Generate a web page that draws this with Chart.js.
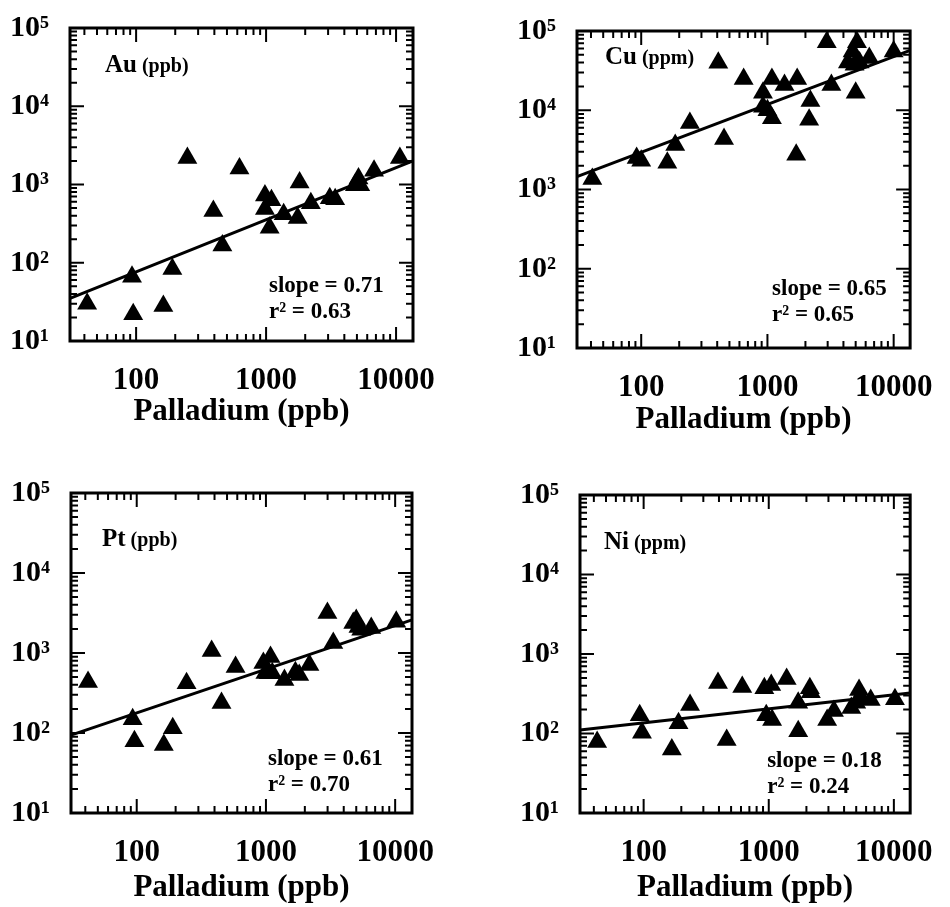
<!DOCTYPE html>
<html>
<head>
<meta charset="utf-8">
<script src="https://cdn.jsdelivr.net/npm/chart.js@4.4.1/dist/chart.umd.min.js"></script>
<style>
  html, body { margin: 0; padding: 0; background: #fff; }
  #page { position: relative; width: 950px; height: 907px; overflow: hidden; }
  .panel { position: absolute; }
  .panel canvas { display: block; }
</style>
</head>
<body>
<div id="page">
  <div class="panel" style="left:0;top:0"><canvas id="c-au" width="475" height="450"></canvas></div>
  <div class="panel" style="left:475px;top:0"><canvas id="c-cu" width="475" height="450"></canvas></div>
  <div class="panel" style="left:0;top:450px"><canvas id="c-pt" width="475" height="457"></canvas></div>
  <div class="panel" style="left:475px;top:450px"><canvas id="c-ni" width="475" height="457"></canvas></div>
</div>
<script>
// tick values
const pdTicks = [100, 1000, 10000];
const concTicks = [10, 100, 1000, 10000, 100000];
const minorSteps = [2, 3, 4, 5, 6, 7, 8, 9];
const pdRange = [31, 13500];
const concRange = [10, 100000];

// Au (ppb) vs Pd
const auPd = [42, 93, 95, 162, 190, 248, 393, 461, 624, 980, 980, 1100, 1065, 1365, 1750, 1810, 2210, 3090, 3400, 4820, 5140, 5300, 6770, 10700];
const auVal = [30, 66, 22, 28, 83, 2180, 457, 166, 1600, 725, 485, 630, 280, 417, 372, 1060, 575, 665, 650, 975, 1190, 975, 1500, 2180];
const auFit = [35, 2000];

// Cu (ppm) vs Pd
const cuPd = [41, 92, 100, 161, 186, 243, 408, 453, 648, 922, 922, 1000, 1085, 1085, 1365, 1720, 1690, 2190, 2140, 2950, 3210, 4340, 4730, 4900, 5120, 5000, 5370, 6410, 10000];
const cuVal = [1360, 2500, 2300, 2170, 3650, 6900, 39800, 4350, 24800, 16600, 11100, 10000, 24800, 7900, 20900, 24800, 2750, 13100, 7600, 72000, 20900, 40000, 55000, 37500, 72000, 16600, 40000, 45700, 55000];
const cuFit = [1450, 57000];

// Pt (ppb) vs Pd
const ptPd = [42, 93, 96, 162, 190, 243, 380, 453, 582, 955, 990, 1050, 1085, 1120, 1390, 1690, 1810, 2170, 2990, 3320, 4740, 5000, 5200, 5460, 6530, 10200];
const ptVal = [434, 149, 79, 71, 115, 420, 1060, 237, 668, 750, 562, 560, 890, 560, 460, 575, 530, 708, 3160, 1330, 2370, 2580, 2110, 1950, 2050, 2450];
const ptFit = [94, 2600];

// Ni (ppm) vs Pd
const niPd = [42.5, 93, 97, 168, 190, 235, 393, 461, 614, 922, 955, 1047, 1064, 1390, 1720, 1720, 2130, 2170, 2930, 3320, 4570, 5000, 5270, 5460, 6530, 10200];
const niVal = [78, 170, 102, 63, 135, 229, 431, 83, 385, 372, 170, 407, 148, 484, 243, 107, 370, 330, 148, 192, 210, 243, 353, 282, 263, 269];
const niFit = [111, 324];

const FONT = "'Liberation Serif', 'DejaVu Serif', serif";
const SUP = { 1: '\u00b9', 2: '\u00b2', 3: '\u00b3', 4: '\u2074', 5: '\u2075' };

const panels = [
    { id: 'c-au', name: 'Au', unit: '(ppb)', x: auPd, y: auVal, fit: auFit, slope: '0.71', r2: '0.63',
      yw: 70, top: 22, right: 62, xh: 109, titlePad: 19, nameAt: [35, 44], statsAt: [-144, -49] },
    { id: 'c-cu', name: 'Cu', unit: '(ppm)', x: cuPd, y: cuVal, fit: cuFit, slope: '0.65', r2: '0.65',
      yw: 102, top: 31, right: 32, xh: 102, titlePad: 11, nameAt: [28, 33], statsAt: [-138, -53] },
    { id: 'c-pt', name: 'Pt', unit: '(ppb)', x: ptPd, y: ptVal, fit: ptFit, slope: '0.61', r2: '0.70',
      yw: 71, top: 43, right: 63, xh: 94, titlePad: 0, nameAt: [31, 53], statsAt: [-144, -48] },
    { id: 'c-ni', name: 'Ni', unit: '(ppm)', x: niPd, y: niVal, fit: niFit, slope: '0.18', r2: '0.24',
      yw: 105, top: 45, right: 28, xh: 94, titlePad: 0, nameAt: [24, 54], statsAt: [-143, -46] },
];

function tickMarks(decades, range) {
    const out = [];
    decades.forEach((d) => {
        if (d >= range[0] && d <= range[1]) out.push({ v: d, major: true });
        minorSteps.forEach((m) => {
            const v = d * m;
            if (v >= range[0] && v <= range[1]) out.push({ v, major: false });
        });
    });
    return out;
}

// inward ticks on all four sides, the frame and the in-plot labels
const framePlugin = {
    id: 'frame',
    afterDatasetsDraw(chart, args, opts) {
        const { ctx, chartArea: a, scales } = chart;
        const xs = scales.x;
        const ys = scales.y;
        const big = 14;
        const small = 7;
        ctx.save();
        ctx.strokeStyle = '#000';
        ctx.lineWidth = 2;
        ctx.beginPath();
        tickMarks([10, 100, 1000, 10000], pdRange).forEach((t) => {
            const px = xs.getPixelForValue(t.v);
            const len = t.major ? big : small;
            ctx.moveTo(px, a.bottom);
            ctx.lineTo(px, a.bottom - len);
            ctx.moveTo(px, a.top);
            ctx.lineTo(px, a.top + len);
        });
        tickMarks([10, 100, 1000, 10000, 100000], concRange).forEach((t) => {
            const py = ys.getPixelForValue(t.v);
            const len = t.major ? big : small;
            ctx.moveTo(a.left, py);
            ctx.lineTo(a.left + len, py);
            ctx.moveTo(a.right, py);
            ctx.lineTo(a.right - len, py);
        });
        ctx.stroke();
        ctx.lineWidth = 3;
        ctx.strokeRect(a.left, a.top, a.right - a.left, a.bottom - a.top);

        ctx.fillStyle = '#000';
        ctx.textBaseline = 'alphabetic';
        ctx.textAlign = 'left';
        const nx = a.left + opts.nameAt[0];
        const ny = a.top + opts.nameAt[1];
        ctx.font = `bold 25px ${FONT}`;
        ctx.fillText(opts.name, nx, ny);
        const w = ctx.measureText(opts.name).width;
        ctx.font = `bold 20px ${FONT}`;
        ctx.fillText(opts.unit, nx + w + 5, ny);

        const sx = a.right + opts.statsAt[0];
        const sy = a.bottom + opts.statsAt[1];
        ctx.font = `bold 23px ${FONT}`;
        ctx.fillText(`slope = ${opts.slope}`, sx, sy);
        ctx.fillText(`r\u00b2 = ${opts.r2}`, sx, sy + 26);
        ctx.restore();
    },
};

function buildChart(p) {
    const points = p.x.map((v, i) => ({ x: v, y: p.y[i] }));
    const fitLine = [{ x: pdRange[0], y: p.fit[0] }, { x: pdRange[1], y: p.fit[1] }];
    const ctx = document.getElementById(p.id);

    return new Chart(ctx, {
        type: 'scatter',
        data: {
            datasets: [
                {
                    data: fitLine,
                    showLine: true,
                    borderColor: '#000',
                    borderWidth: 3,
                    pointRadius: 0,
                    clip: false,
                },
                {
                    data: points,
                    pointStyle: 'triangle',
                    pointRadius: 11.5,
                    backgroundColor: '#000',
                    borderColor: '#000',
                    borderWidth: 0,
                    clip: false,
                },
            ],
        },
        options: {
            responsive: false,
            animation: false,
            events: [],
            layout: { padding: { left: 0, top: p.top, right: p.right, bottom: 0 } },
            plugins: {
                legend: { display: false },
                tooltip: { enabled: false },
                frame: {
                    name: p.name, unit: p.unit, slope: p.slope, r2: p.r2,
                    nameAt: p.nameAt, statsAt: p.statsAt,
                },
            },
            scales: {
                x: {
                    type: 'logarithmic',
                    min: pdRange[0],
                    max: pdRange[1],
                    grid: { display: false },
                    border: { display: false },
                    afterBuildTicks: (s) => { s.ticks = pdTicks.map((v) => ({ value: v })); },
                    afterFit: (s) => { s.height = p.xh; },
                    ticks: {
                        autoSkip: false,
                        maxRotation: 0,
                        padding: 16,
                        color: '#000',
                        font: { family: FONT, size: 31, weight: 'bold', lineHeight: 1 },
                        callback: (v) => String(v),
                    },
                    title: {
                        display: true,
                        text: 'Palladium (ppb)',
                        color: '#000',
                        font: { family: FONT, size: 31, weight: 'bold', lineHeight: 1.2 },
                        padding: { top: 0, bottom: p.titlePad },
                    },
                },
                y: {
                    type: 'logarithmic',
                    min: concRange[0],
                    max: concRange[1],
                    grid: { display: false },
                    border: { display: false },
                    afterBuildTicks: (s) => { s.ticks = concTicks.map((v) => ({ value: v })); },
                    afterFit: (s) => { s.width = p.yw; },
                    ticks: {
                        autoSkip: false,
                        padding: 13,
                        color: '#000',
                        font: { family: FONT, size: 30, weight: 'bold', lineHeight: 1 },
                        callback: (v) => '10' + SUP[Math.round(Math.log10(v))],
                    },
                },
            },
        },
        plugins: [framePlugin],
    });
}

panels.forEach(buildChart);
</script>
</body>
</html>
